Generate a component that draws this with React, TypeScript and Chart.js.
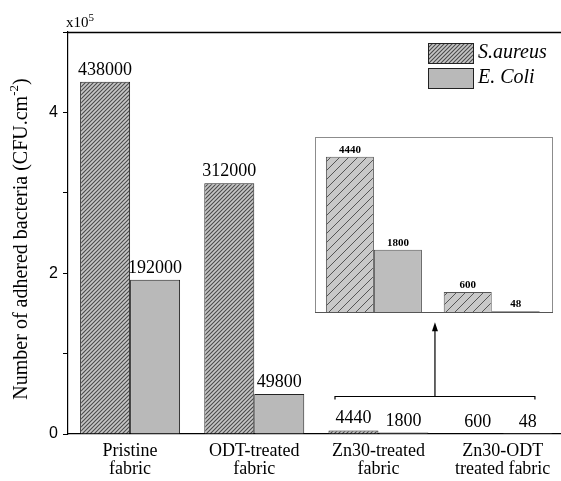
import React, { useEffect, useRef } from 'react';
import { Chart, registerables } from 'chart.js';

Chart.register(...registerables);

// ---- data ----
const categories: string[][] = [
  ['Pristine', 'fabric'],
  ['ODT-treated', 'fabric'],
  ['Zn30-treated', 'fabric'],
  ['Zn30-ODT', 'treated fabric'],
];
const seriesNames = ['S.aureus', 'E. Coli'];
const sAureus = [438000, 312000, 4440, 600];
const eColi = [192000, 49800, 1800, 48];
const yTickValues = [0, 100000, 200000, 300000, 400000, 500000];
const yTickLabels = ['0', '', '2', '', '4', ''];
const yMax = 500000;
const axisExponent = '5';
const insetIndexes = [2, 3];
const insetYMax = 5000;
// annotation (bracket + arrow) anchor values, in data units
const bracketFrom = 1.65;
const bracketTo = 3.26;
const bracketAt = 47000;
const arrowTipAt = 139000;

const SERIF = '"Liberation Serif", "Times New Roman", serif';
const SANS = '"Liberation Sans", Arial, sans-serif';

function makeHatch(size: number, bg: string, fg: string, lw: number): CanvasPattern | string {
  const c = document.createElement('canvas');
  c.width = size;
  c.height = size;
  const g = c.getContext('2d');
  if (!g) return bg;
  g.fillStyle = bg;
  g.fillRect(0, 0, size, size);
  g.strokeStyle = fg;
  g.lineWidth = lw;
  g.beginPath();
  g.moveTo(-1, size + 1);
  g.lineTo(size + 1, -1);
  g.moveTo(-1, 1);
  g.lineTo(1, -1);
  g.moveTo(size - 1, size + 1);
  g.lineTo(size + 1, size - 1);
  g.stroke();
  const p = g.createPattern(c, 'repeat');
  return p || bg;
}

export default function App() {
  const mainRef = useRef<HTMLCanvasElement>(null);
  const insetRef = useRef<HTMLCanvasElement>(null);

  useEffect(() => {
    if (!mainRef.current || !insetRef.current) return;
    const hatchMain = makeHatch(4, '#c6c6c6', '#4a4a4a', 1.1);
    const hatchInset = makeHatch(9, '#c9c9c9', '#555', 1);
    const ecoliFill = '#b9b9b9';

    const mainPlugin = {
      id: 'mainDecor',
      afterDatasetsDraw(chart: any) {
        const ctx = chart.ctx;
        ctx.save();
        ctx.fillStyle = '#000';
        ctx.font = `18px ${SERIF}`;
        ctx.textAlign = 'center';
        ctx.textBaseline = 'alphabetic';
        chart.data.datasets.forEach((ds: any, di: number) => {
          const meta = chart.getDatasetMeta(di);
          meta.data.forEach((el: any, i: number) => {
            ctx.fillText(String(ds.data[i].y), el.x, el.y - 7);
          });
        });
        ctx.restore();
      },
      afterDraw(chart: any) {
        const ctx = chart.ctx;
        const a = chart.chartArea;
        const xs = chart.scales.x;
        const ys = chart.scales.y;
        ctx.save();
        // top frame line
        ctx.strokeStyle = '#000';
        ctx.lineWidth = 1.5;
        ctx.beginPath();
        ctx.moveTo(a.left, a.top + 0.5);
        ctx.lineTo(a.right, a.top + 0.5);
        ctx.stroke();

        // exponent
        ctx.fillStyle = '#000';
        ctx.textAlign = 'left';
        ctx.textBaseline = 'alphabetic';
        ctx.font = `15px ${SERIF}`;
        ctx.fillText('x10', a.left - 2, a.top - 5);
        const w10 = ctx.measureText('x10').width;
        ctx.font = `11px ${SERIF}`;
        ctx.fillText(axisExponent, a.left - 2 + w10, a.top - 11);

        // y title
        const main = 'Number of adhered bacteria (CFU.cm';
        const sup = '-2';
        const tail = ')';
        ctx.font = `20px ${SERIF}`;
        const wMain = ctx.measureText(main).width;
        const wTail = ctx.measureText(tail).width;
        ctx.font = `13px ${SERIF}`;
        const wSup = ctx.measureText(sup).width;
        const W = wMain + wSup + wTail;
        ctx.save();
        ctx.translate(27, (a.top + a.bottom) / 2 + 6);
        ctx.rotate(-Math.PI / 2);
        ctx.font = `20px ${SERIF}`;
        ctx.fillText(main, -W / 2, 0);
        ctx.font = `13px ${SERIF}`;
        ctx.fillText(sup, -W / 2 + wMain, -9);
        ctx.font = `20px ${SERIF}`;
        ctx.fillText(tail, -W / 2 + wMain + wSup, 0);
        ctx.restore();

        // legend
        const lx = a.right - 133;
        const ly = a.top + 11;
        const fills = [hatchMain, ecoliFill];
        ctx.lineWidth = 1;
        ctx.strokeStyle = '#222';
        seriesNames.forEach((name, i) => {
          const y = ly + i * 25;
          ctx.fillStyle = fills[i] as any;
          ctx.fillRect(lx, y, 45, 20);
          ctx.strokeRect(lx + 0.5, y + 0.5, 45, 20);
          ctx.fillStyle = '#000';
          ctx.font = `italic 20px ${SERIF}`;
          ctx.textBaseline = 'middle';
          ctx.fillText(name, lx + 50, y + 10);
        });

        // bracket and arrow
        const bx1 = xs.getPixelForValue(bracketFrom);
        const bx2 = xs.getPixelForValue(bracketTo);
        const bxm = (bx1 + bx2) / 2;
        const by = Math.round(ys.getPixelForValue(bracketAt)) + 0.5;
        const tip = ys.getPixelForValue(arrowTipAt);
        ctx.strokeStyle = '#000';
        ctx.lineWidth = 1.2;
        ctx.beginPath();
        ctx.moveTo(bx1, by + 3);
        ctx.lineTo(bx1, by);
        ctx.lineTo(bx2, by);
        ctx.lineTo(bx2, by + 3);
        ctx.moveTo(bxm, by);
        ctx.lineTo(bxm, tip + 6);
        ctx.stroke();
        ctx.fillStyle = '#000';
        ctx.beginPath();
        ctx.moveTo(bxm, tip);
        ctx.lineTo(bxm - 3, tip + 9);
        ctx.lineTo(bxm + 3, tip + 9);
        ctx.closePath();
        ctx.fill();
        ctx.restore();
      },
    };

    const mainChart = new Chart(mainRef.current, {
      type: 'bar',
      data: {
        datasets: [
          {
            label: seriesNames[0],
            data: sAureus.map((v, i) => ({ x: i, y: v })),
            backgroundColor: hatchMain as any,
            borderColor: '#222',
            borderWidth: 1,
          },
          {
            label: seriesNames[1],
            data: eColi.map((v, i) => ({ x: i, y: v })),
            backgroundColor: ecoliFill,
            borderColor: '#222',
            borderWidth: 1,
          },
        ],
      },
      options: {
        animation: false,
        responsive: false,
        devicePixelRatio: 1,
        layout: { padding: { top: 32, left: 0, right: 0, bottom: 0 } },
        datasets: { bar: { categoryPercentage: 0.805, barPercentage: 1 } } as any,
        plugins: { legend: { display: false }, tooltip: { enabled: false } },
        scales: {
          x: {
            type: 'linear',
            offset: false,
            min: -0.5,
            max: 3.47,
            afterBuildTicks: (scale: any) => {
              scale.ticks = categories.map((_, i) => ({ value: i }));
            },
            afterFit: (scale: any) => {
              scale.height = 47;
            },
            grid: { display: false, drawTicks: false, tickLength: 0, offset: false },
            border: { display: true, color: '#000', width: 1.2 },
            ticks: {
              autoSkip: false,
              maxRotation: 0,
              padding: 9,
              color: '#000',
              font: { family: SERIF, size: 18, lineHeight: 0.97 },
              callback: (v: any) => categories[Math.round(Number(v))] || '',
            },
          },
          y: {
            min: 0,
            max: yMax,
            afterBuildTicks: (scale: any) => {
              scale.ticks = yTickValues.map((v) => ({ value: v }));
            },
            afterFit: (scale: any) => {
              scale.width = 68;
            },
            grid: { drawOnChartArea: false, drawTicks: true, tickLength: 5, color: '#000' },
            border: { display: true, color: '#000', width: 1.2 },
            ticks: {
              padding: 5,
              color: '#000',
              font: { family: SANS, size: 16 },
              callback: (v: any) => {
                const idx = yTickValues.indexOf(Number(v));
                return idx >= 0 ? yTickLabels[idx] : '';
              },
            },
          },
        },
      } as any,
      plugins: [mainPlugin],
    });

    const insetPlugin = {
      id: 'insetDecor',
      afterDatasetsDraw(chart: any) {
        const ctx = chart.ctx;
        ctx.save();
        ctx.fillStyle = '#000';
        ctx.font = `bold 11px ${SERIF}`;
        ctx.textAlign = 'center';
        ctx.textBaseline = 'alphabetic';
        chart.data.datasets.forEach((ds: any, di: number) => {
          const meta = chart.getDatasetMeta(di);
          meta.data.forEach((el: any, i: number) => {
            ctx.fillText(String(ds.data[i].y), el.x, el.y - 4);
          });
        });
        ctx.strokeStyle = '#8c8c8c';
        ctx.lineWidth = 1;
        ctx.strokeRect(0.5, 0.5, chart.width - 1, chart.height - 1);
        ctx.strokeStyle = '#555';
        ctx.beginPath();
        ctx.moveTo(0, chart.height - 0.5);
        ctx.lineTo(chart.width, chart.height - 0.5);
        ctx.stroke();
        ctx.restore();
      },
    };

    const insetChart = new Chart(insetRef.current, {
      type: 'bar',
      data: {
        datasets: [
          {
            label: seriesNames[0],
            data: insetIndexes.map((ci, i) => ({ x: i, y: sAureus[ci] })),
            backgroundColor: hatchInset as any,
            borderColor: '#555',
            borderWidth: 1,
          },
          {
            label: seriesNames[1],
            data: insetIndexes.map((ci, i) => ({ x: i, y: eColi[ci] })),
            backgroundColor: '#bdbdbd',
            borderColor: '#555',
            borderWidth: 1,
          },
        ],
      },
      options: {
        animation: false,
        responsive: false,
        devicePixelRatio: 1,
        layout: { padding: 0 },
        datasets: { bar: { categoryPercentage: 0.815, barPercentage: 1 } } as any,
        plugins: { legend: { display: false }, tooltip: { enabled: false } },
        scales: {
          x: {
            type: 'linear',
            display: false,
            offset: false,
            grid: { offset: false },
            min: -0.5,
            max: 1.52,
            afterBuildTicks: (scale: any) => {
              scale.ticks = insetIndexes.map((_, i) => ({ value: i }));
            },
          },
          y: { display: false, min: 0, max: insetYMax },
        },
      } as any,
      plugins: [insetPlugin],
    });

    return () => {
      mainChart.destroy();
      insetChart.destroy();
    };
  }, []);

  return (
    <div style={{ position: 'absolute', left: 0, top: 0, width: 561, height: 481, background: '#fff', overflow: 'hidden' }}>
      <canvas ref={mainRef} width={561} height={481} style={{ position: 'absolute', left: 0, top: 0 }} />
      <canvas ref={insetRef} width={238} height={176} style={{ position: 'absolute', left: 315, top: 137, background: '#fff' }} />
    </div>
  );
}
